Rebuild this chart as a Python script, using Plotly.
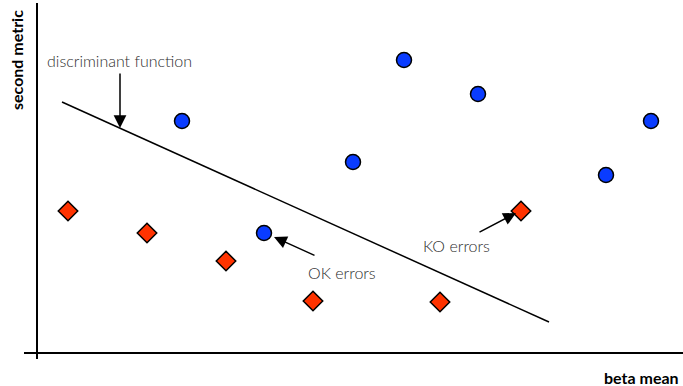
import plotly.graph_objects as go

# Data (arbitrary units)
blue_x = [14.5, 36.7, 44.1, 31.6, 56.9, 61.4, 22.7]
blue_y = [23.2, 29.3, 25.9, 19.1, 17.8, 23.2, 12.0]
red_x = [3.1, 11.0, 18.9, 27.6, 40.3, 48.4]
red_y = [14.2, 12.0, 9.2, 5.2, 5.1, 14.2]
line_x = [2.5, 51.2]
line_y = [25.1, 3.1]

x_range = [-3.7, 64.6]
y_range = [-3.3, 35.3]

FONT = "Lato, 'Open Sans', sans-serif"
TXT = "#2e2e2e"

fig = go.Figure()
fig.add_trace(go.Scatter(x=line_x, y=line_y, mode="lines",
                         line=dict(color="black", width=1.5), hoverinfo="skip"))
fig.add_trace(go.Scatter(x=blue_x, y=blue_y, mode="markers",
                         marker=dict(symbol="circle", size=15, color="#0a3cff",
                                     line=dict(color="black", width=1.5))))
fig.add_trace(go.Scatter(x=red_x, y=red_y, mode="markers",
                         marker=dict(symbol="diamond", size=15, color="#ff3300",
                                     line=dict(color="black", width=1.5))))

# axis lines
fig.add_shape(type="line", xref="x", yref="paper", x0=0, x1=0, y0=(386-359)/386, y1=(386-3)/386,
              line=dict(color="black", width=2))
fig.add_shape(type="line", xref="paper", yref="y", x0=24/683, x1=1, y0=0, y1=0,
              line=dict(color="black", width=2))

arrows = [
    dict(x=8.3, y=22.5, ax=8.3, ay=28.1),
    dict(x=23.7, y=11.6, ax=27.9, ay=9.7),
    dict(x=47.9, y=14.0, ax=44.1, ay=12.0),
]
for a in arrows:
    fig.add_annotation(x=a["x"], y=a["y"], ax=a["ax"], ay=a["ay"], xref="x", yref="y",
                       axref="x", ayref="y", text="", showarrow=True,
                       arrowhead=2, arrowsize=1.7, arrowwidth=1.5, arrowcolor="black")

labels = [
    ("discriminant function", 8.2, 29.3),
    ("OK errors", 30.5, 8.1),
    ("KO errors", 41.9, 10.8),
]
for t, x, y in labels:
    fig.add_annotation(x=x, y=y, xref="x", yref="y", text=t, showarrow=False,
                       font=dict(family=FONT, size=16, color=TXT, weight=300))

fig.add_annotation(x=641/683, y=(386-377)/386, xref="paper", yref="paper", text="<b>beta mean</b>",
                   xanchor="center", yanchor="middle",
                   showarrow=False, font=dict(family=FONT, size=16, color="black"))
fig.add_annotation(x=16/683, y=(386-60)/386, xref="paper", yref="paper", text="<b>second metric</b>",
                   xanchor="center", yanchor="middle",
                   showarrow=False, textangle=-90, font=dict(family=FONT, size=16, color="black"))

fig.update_layout(
    width=683, height=386, margin=dict(l=0, r=0, t=0, b=0),
    plot_bgcolor="white", paper_bgcolor="white", showlegend=False,
    xaxis=dict(range=x_range, visible=False),
    yaxis=dict(range=y_range, visible=False),
)
fig.write_html("out.html", config={"displayModeBar": False},
               post_script="document.body.style.margin='0';document.body.style.padding='0';")
